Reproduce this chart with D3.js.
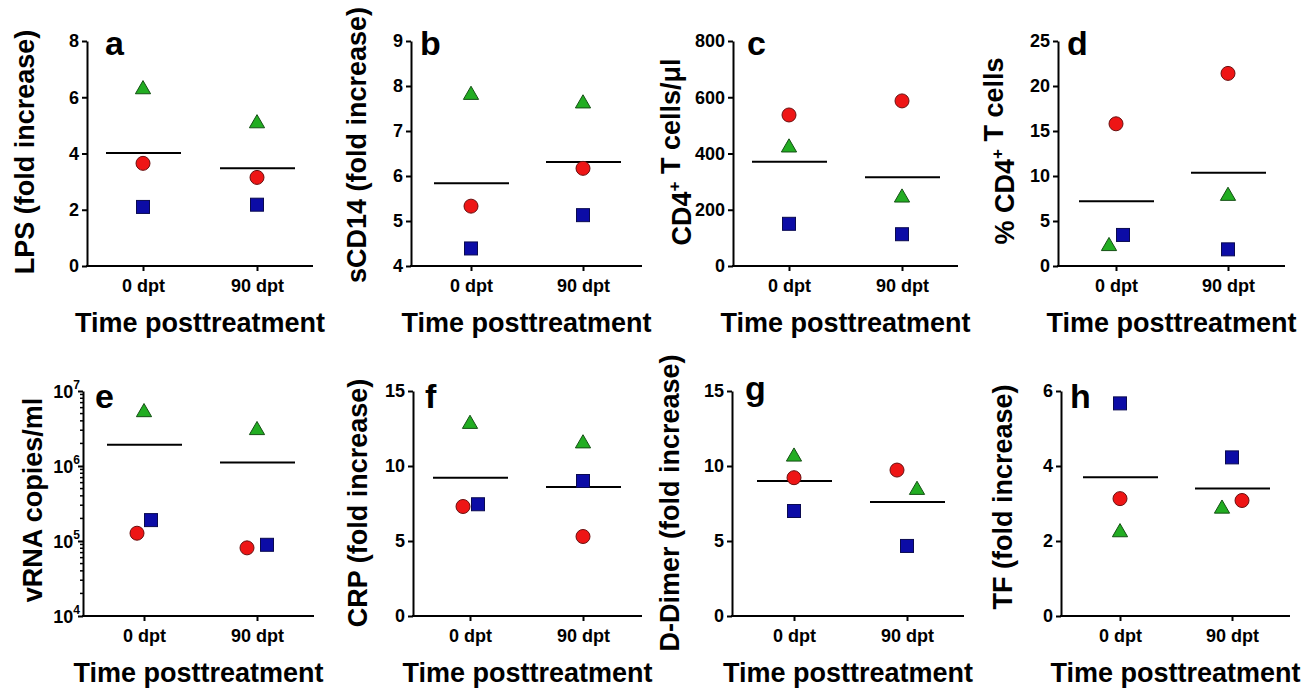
<!DOCTYPE html>
<html>
<head>
<meta charset="utf-8">
<script src="https://cdn.jsdelivr.net/npm/d3@7"></script>
<style>
  body { margin: 0; background: #fff; }
  text { font-family: Arial, "Liberation Sans", sans-serif; font-weight: bold; fill: #000; }
</style>
</head>
<body>
<svg id="chart" width="1308" height="690"></svg>
<script>
// ---- data ----
const times = ['0 dpt', '90 dpt'];
const panelIds = ['a', 'b', 'c', 'd', 'e', 'f', 'g', 'h'];
const yLabels = [
  'LPS (fold increase)', 'sCD14 (fold increase)', 'CD4{+} T cells/\u03bcl', '% CD4{+} T cells',
  'vRNA copies/ml', 'CRP (fold increase)', 'D-Dimer (fold increase)', 'TF (fold increase)'
];
const xTitle = 'Time posttreatment';
const yDomains = [[0, 8], [4, 9], [0, 800], [0, 25], [1e4, 1e7], [0, 15], [0, 15], [0, 6]];
const yTicks = [
  [0, 2, 4, 6, 8], [4, 5, 6, 7, 8, 9], [0, 200, 400, 600, 800], [0, 5, 10, 15, 20, 25],
  [1e4, 1e5, 1e6, 1e7], [0, 5, 10, 15], [0, 5, 10, 15], [0, 2, 4, 6]
];
// values per panel: [0 dpt, 90 dpt]
const redCircle = [[3.65, 3.15], [5.33, 6.17], [537, 587], [15.8, 21.4], [1.27e5, 8.1e4], [7.3, 5.3], [9.22, 9.73], [3.13, 3.08]];
const blueSquare = [[2.1, 2.18], [4.39, 5.13], [150, 113], [3.45, 1.85], [1.9e5, 8.9e4], [7.45, 9.0], [7.0, 4.67], [5.67, 4.23]];
const greenTriangle = [[6.28, 5.07], [7.8, 7.61], [421, 243], [2.2, 7.78], [5.2e6, 3.0e6], [12.8, 11.5], [10.62, 8.4], [2.23, 2.86]];
const meanLine = [[4.02, 3.48], [5.84, 6.31], [371, 316], [7.2, 10.35], [1.92e6, 1.11e6], [9.22, 8.6], [9.0, 7.6], [3.7, 3.4]];

// ---- layout (page pixels) ----
const layout = [
  {x: 87, y: 41, w: 226, c0: 56, c1: 170, lx: 25, ly: 152, tx: 105, ty: 55},
  {x: 411, y: 41, w: 231, c0: 60, c1: 172, lx: 357, ly: 145, tx: 420, ty: 55},
  {x: 733, y: 41, w: 225, c0: 56, c1: 169, lx: 682, ly: 152, tx: 747, ty: 55},
  {x: 1058, y: 41, w: 227, c0: 58, c1: 170, lx: 1005, ly: 151, tx: 1067, ty: 55},
  {x: 83, y: 391, w: 231, c0: 61, c1: 174, lx: 33, ly: 500, tx: 95, ty: 408},
  {x: 413, y: 391, w: 229, c0: 57, c1: 170, lx: 358, ly: 503, tx: 425, ty: 408},
  {x: 732, y: 391, w: 232, c0: 62, c1: 175, lx: 670, ly: 503, tx: 745, ty: 400},
  {x: 1061, y: 391, w: 229, c0: 59, c1: 171, lx: 1003, ly: 497, tx: 1070, ty: 408}
];
const plotH = 225;
// horizontal jitter of markers (px)
const circleDx = [[0, 0], [0, 0], [0, 0], [0, 0], [-7, -10], [-7, 0], [0, -10], [0, 10]];
const squareDx = [[0, 0], [0, 0], [0, 0], [7, 0], [7, 10], [8, 0], [0, 0], [0, 0]];
const triDx = [[0, 0], [0, 0], [0, 0], [-7, 0], [0, 0], [0, 0], [0, 10], [0, -10]];

const svg = d3.select('#chart');

panelIds.forEach((id, i) => {
  const L = layout[i];
  const g = svg.append('g').attr('transform', `translate(${L.x},${L.y})`);
  const x = d3.scalePoint().domain(times).range([L.c0, L.c1]);
  const isLog = i === 4;
  const y = (isLog ? d3.scaleLog() : d3.scaleLinear()).domain(yDomains[i]).range([plotH, 0]);

  // y axis
  const yAxis = d3.axisLeft(y).tickValues(yTicks[i]).tickSize(5).tickSizeOuter(0).tickPadding(3)
    .tickFormat(isLog ? '' : d3.format('d'));
  const ya = g.append('g').call(yAxis);
  ya.select('.domain').attr('stroke', '#000').attr('stroke-width', 2);
  ya.selectAll('.tick line').attr('stroke-width', 2);
  ya.selectAll('.tick text').attr('font-size', 18).style('font-family', 'Arial, "Liberation Sans", sans-serif').style('font-weight', 'bold');

  if (isLog) {
    const minor = [];
    [1e4, 1e5, 1e6].forEach(d => { for (let k = 2; k <= 9; k++) minor.push(d * k); });
    g.selectAll('.minor').data(minor).enter().append('line')
      .attr('x1', -3).attr('x2', 0)
      .attr('y1', d => y(d)).attr('y2', d => y(d))
      .attr('stroke', '#000').attr('stroke-width', 1.5);
    const lab = g.selectAll('.loglab').data(yTicks[i]).enter().append('text')
      .attr('text-anchor', 'end')
      .attr('x', -3)
      .attr('y', d => y(d) + 7)
      .attr('font-size', 18);
    lab.append('tspan').text('10');
    lab.append('tspan').attr('dy', -9).attr('font-size', 12).text(d => Math.round(Math.log10(d)));
  }

  // x axis
  const xa = g.append('g').attr('transform', `translate(0,${plotH})`)
    .call(d3.axisBottom(x).tickSize(5).tickSizeOuter(0).tickPadding(8));
  xa.select('.domain').remove();
  xa.append('line').attr('x1', -1).attr('x2', L.w).attr('stroke', '#000').attr('stroke-width', 2);
  xa.selectAll('.tick line').attr('stroke-width', 2);
  xa.selectAll('.tick text').attr('font-size', 18).style('font-family', 'Arial, "Liberation Sans", sans-serif').style('font-weight', 'bold');

  // mean lines
  g.selectAll('.mean').data(meanLine[i]).enter().append('line')
    .attr('x1', (d, j) => x(times[j]) - 37)
    .attr('x2', (d, j) => x(times[j]) + 38)
    .attr('y1', d => y(d)).attr('y2', d => y(d))
    .attr('stroke', '#000').attr('stroke-width', 2);

  // markers
  g.selectAll('.circ').data(redCircle[i]).enter().append('circle')
    .attr('cx', (d, j) => x(times[j]) + circleDx[i][j])
    .attr('cy', d => y(d))
    .attr('r', 7)
    .attr('fill', '#ee1515').attr('stroke', '#6a1010').attr('stroke-width', 1);
  g.selectAll('.sq').data(blueSquare[i]).enter().append('rect')
    .attr('x', (d, j) => x(times[j]) + squareDx[i][j] - 6.5)
    .attr('y', d => y(d) - 6.5)
    .attr('width', 13).attr('height', 13)
    .attr('fill', '#0c0ca6').attr('stroke', '#0a0a50').attr('stroke-width', 1);
  const tri = d3.symbol().type(d3.symbolTriangle).size(100);
  g.selectAll('.tri').data(greenTriangle[i]).enter().append('path')
    .attr('d', tri)
    .attr('transform', (d, j) => `translate(${x(times[j]) + triDx[i][j]},${y(d)})`)
    .attr('fill', '#22ad22').attr('stroke', '#145014').attr('stroke-width', 1);

  // x title
  g.append('text')
    .attr('x', L.w / 2).attr('y', plotH + 66)
    .attr('text-anchor', 'middle').attr('font-size', 27)
    .text(xTitle);

  // y label (with {..} superscripts)
  const yl = svg.append('text')
    .attr('transform', `translate(${L.lx},${L.ly}) rotate(-90)`)
    .attr('text-anchor', 'middle').attr('font-size', 27).attr('dy', '0.35em');
  yLabels[i].split(/(\{[^}]*\})/).filter(s => s.length).forEach(part => {
    if (part.startsWith('{')) {
      yl.append('tspan').attr('dy', -11).attr('font-size', 17).text(part.slice(1, -1));
      yl.append('tspan').attr('dy', 11).text('');
    } else {
      yl.append('tspan').text(part);
    }
  });

  // panel letter
  svg.append('text')
    .attr('x', L.tx).attr('y', L.ty)
    .attr('font-size', 34)
    .text(id);
});
</script>
</body>
</html>
